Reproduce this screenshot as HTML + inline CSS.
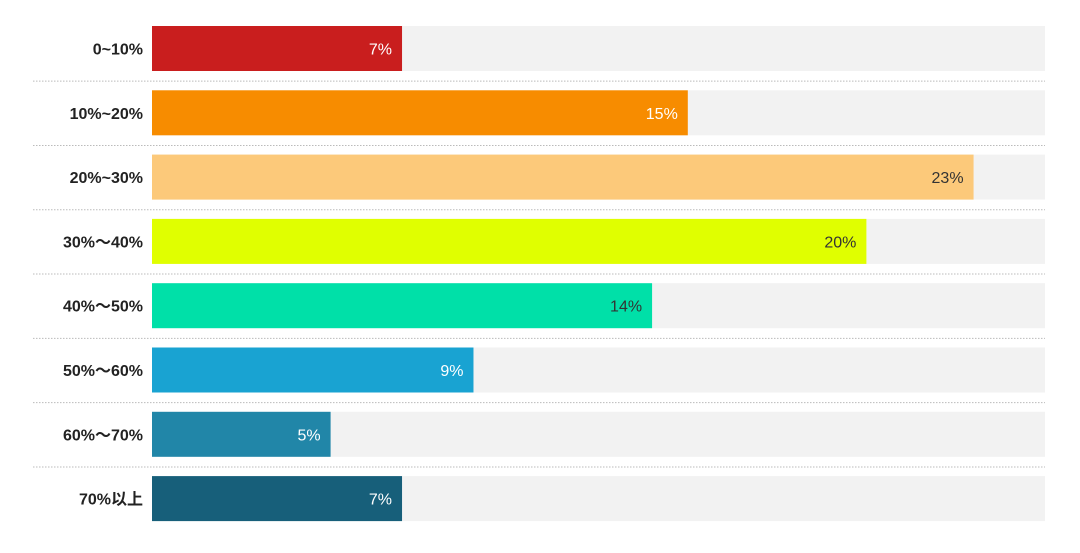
<!DOCTYPE html>
<html><head><meta charset="utf-8"><style>
body{margin:0;background:#fff;width:1080px;height:548px;overflow:hidden;font-family:"Liberation Sans","Noto Sans CJK SC",sans-serif;}
</style></head><body>
<svg id="chart" width="1080" height="548" xmlns="http://www.w3.org/2000/svg"></svg>
<script>
const categories=["0~10%","10%~20%","20%~30%","30%～40%","40%～50%","50%～60%","60%～70%","70%以上"];
const values=[7,15,23,20,14,9,5,7];
const valueLabels=["7%","15%","23%","20%","14%","9%","5%","7%"];
const colors=["#c91e1e","#f78c00","#fcc97a","#e0ff00","#00e0a8","#19a3d2","#2186a8","#175f7a"];
const darkText=[false,false,true,true,true,false,false,false];
const maxVal=25;
const NS="http://www.w3.org/2000/svg";
const svg=document.getElementById('chart');
const x0=152,x1=1045,top0=26,pitch=64.3,bh=45;
const xs=v=>x0+(x1-x0)*v/maxVal;
const yb=i=>top0+i*pitch;
function mk(t,a){const e=document.createElementNS(NS,t);for(const k in a)e.setAttribute(k,a[k]);svg.appendChild(e);return e;}
categories.forEach((c,i)=>{
  const y=yb(i);
  const tr=mk('rect',{x:x0,y:y,width:x1-x0,height:bh,fill:'#f2f2f2'});
  
  
  const b=mk('rect',{x:x0,y:y,width:xs(values[i])-x0,height:bh,fill:colors[i]});
  
  
  const l=mk('text',{x:143,y:y+bh/2+6,'text-anchor':'end','font-size':'16','font-weight':'bold',fill:'#222'});
  l.textContent=c;
  
  
  const v=mk('text',{x:xs(values[i])-10,y:y+bh/2+6,'text-anchor':'end','font-size':'16',fill:darkText[i]?'#333':'#fff'});
  v.textContent=valueLabels[i];
  
  
  if(i<categories.length-1){
    const sy=y+bh+(pitch-bh)/2+0.5;
    const s=mk('line',{x1:33,x2:x1,y1:sy,y2:sy,stroke:'#bbb','stroke-width':1,'stroke-dasharray':'1.5,1.5'});
    
    
  }
});
</script>
</body></html>
